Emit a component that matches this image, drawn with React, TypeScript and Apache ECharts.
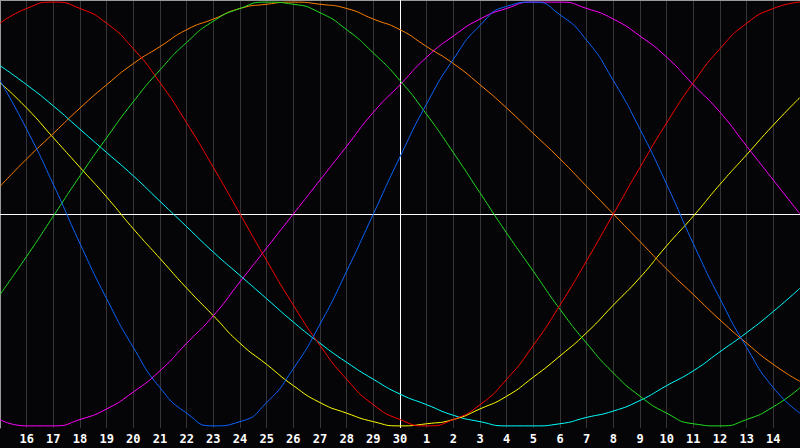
import React, { useEffect, useRef } from "react";
import * as echarts from "echarts";

const days = ["15","16","17","18","19","20","21","22","23","24","25","26","27","28","29","30","1","2","3","4","5","6","7","8","9","10","11","12","13","14","15"];

const blue = [63,40,14,-14,-40,-63,-82,-94,-100,-98,-89,-73,-52,-27,0,27,52,73,89,98,100,94,82,63,40,14,-14,-40,-63,-82,-94];
const red = [90,97,100,97,90,78,62,43,22,0,-22,-43,-62,-78,-90,-97,-100,-97,-90,-78,-62,-43,-22,0,22,43,62,78,90,97,100];
const green = [-38,-20,-1,18,36,53,68,81,91,97,100,99,95,87,76,63,47,29,10,-9,-27,-45,-61,-75,-86,-94,-99,-100,-97,-91,-82];
const orange = [13,26,38,50,61,71,79,87,92,97,99,100,99,97,92,87,79,71,61,50,38,26,13,0,-13,-26,-38,-50,-61,-71,-79];
const magenta = [-97,-100,-100,-97,-92,-84,-74,-61,-48,-32,-16,0,16,32,48,61,74,84,92,97,100,100,97,92,84,74,61,48,32,16,0];
const cyan = [70,61,51,40,29,18,6,-6,-18,-29,-40,-51,-61,-70,-78,-85,-90,-95,-98,-100,-100,-99,-96,-93,-88,-81,-74,-65,-56,-46,-35];
const yellow = [62,50,36,22,8,-7,-21,-35,-48,-61,-71,-81,-89,-94,-98,-100,-99,-97,-92,-86,-77,-67,-56,-43,-30,-15,-1,14,28,42,55];

const seriesDefs: [string, number[], string][] = [
  ["cyan", cyan, "#00ffff"],
  ["yellow", yellow, "#ffff00"],
  ["orange", orange, "#ff8000"],
  ["magenta", magenta, "#ff00ff"],
  ["green", green, "#20e020"],
  ["red", red, "#ff0000"],
  ["blue", blue, "#0a64ff"],
];

export default function App() {
  const ref = useRef<HTMLDivElement>(null);
  useEffect(() => {
    const chart = echarts.init(ref.current!, null, { renderer: "svg" });
    const series: any[] = seriesDefs.map(([name, data, color]) => ({
      name,
      type: "line",
      data,
      smooth: 0.6,
      symbol: "none",
      lineStyle: { color, width: 1 },
      z: 3,
    }));
    series[0].markLine = {
      silent: true,
      symbol: "none",
      label: { show: false },
      lineStyle: { color: "#ffffff", width: 1, type: "solid" },
      data: [{ xAxis: "30" }, { yAxis: 0 }],
      z: 2,
    };
    const last = days.length - 1;
    chart.setOption({
      animation: false,
      backgroundColor: "#050507",
      grid: { left: 0, right: 0, top: 0, bottom: 20, containLabel: false, outerBoundsMode: "none" },
      xAxis: [
        {
          type: "category",
          data: days,
          boundaryGap: false,
          axisLine: { show: true, lineStyle: { color: "#9a9a9a", width: 1 } },
          axisTick: { show: false },
          axisLabel: {
            color: "#ffffff",
            fontWeight: "bold",
            fontFamily: "DejaVu Sans Mono",
            fontSize: 12,
            margin: 5,
            interval: 0,
            formatter: (v: string, i: number) => (i === 0 || i === last ? "" : v),
          },
          splitLine: { show: true, interval: 0, lineStyle: { color: "#353535", width: 1 } },
        },
        {
          type: "category",
          data: days,
          position: "top",
          boundaryGap: false,
          axisLine: { show: true, lineStyle: { color: "#9a9a9a", width: 1 } },
          axisTick: { show: false },
          axisLabel: { show: false },
          splitLine: { show: false },
        },
      ],
      yAxis: {
        type: "value",
        min: -101,
        max: 101,
        axisLine: { show: true, lineStyle: { color: "#9a9a9a", width: 1 } },
        axisTick: { show: false },
        axisLabel: { show: false },
        splitLine: { show: false },
      },
      series,
    });
    return () => chart.dispose();
  }, []);
  return <div ref={ref} style={{ width: 800, height: 448, position: "absolute", left: 0, top: 0 }} />;
}
